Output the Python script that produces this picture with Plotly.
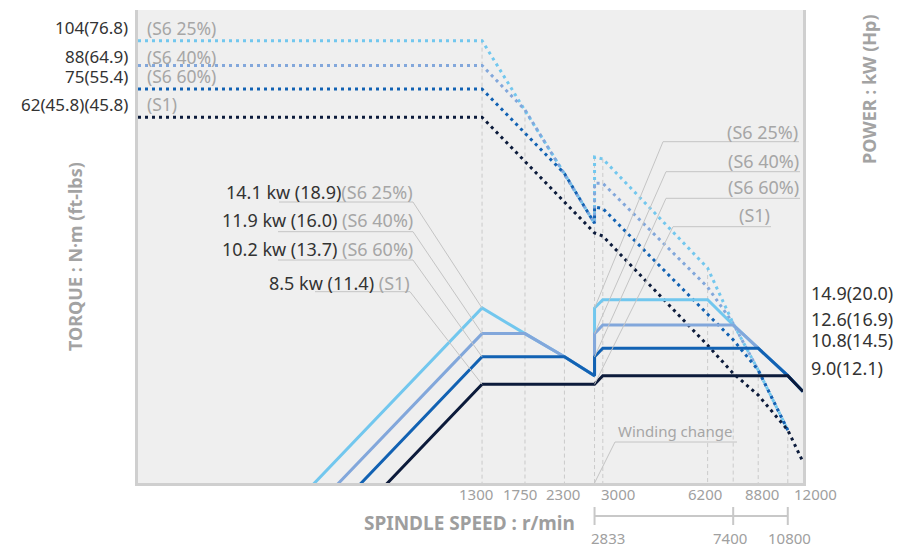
import numpy as np
import plotly.graph_objects as go

# speed axis (r/min), log scale
speed_range = [120, 12000]

# torque curves, N·m (dotted)
tq_s25_n = [120, 1300, 1750, 2300, 2833, 2833, 3000, 6200, 7400, 8800, 10800]
tq_s25_v = [104, 104, 64.9, 42.4, 30.3, 47.4, 46.8, 22.4, 15.4, 11.25, 7.5]
tq_s40_n = [120, 1300, 1750, 2300, 2833, 2833, 3000, 6200, 7400, 8800, 10800]
tq_s40_v = [88, 88, 65.2, 42.4, 30.3, 39.7, 39.7, 19.7, 15.4, 11.25, 7.5]
tq_s60_n = [120, 1300, 2300, 2833, 2833, 3000, 6200, 7400, 8800, 10800]
tq_s60_v = [75, 75, 42.4, 30.3, 33.8, 33.5, 16.4, 13.8, 11.25, 7.5]
tq_s1_n = [120, 1300, 2833, 3000, 6200, 7400, 8800, 10800, 12000]
tq_s1_v = [62, 62, 28.4, 27.8, 13.3, 11.0, 9.5, 7.5, 6.05]

# power curves, kW (solid)
pw_s25_n = [300, 1300, 1750, 2300, 2833, 2833, 3000, 6200, 7400, 8800, 10800, 12000]
pw_s25_v = [3.25, 14.1, 11.9, 10.2, 9.0, 14.1, 14.9, 14.9, 12.6, 10.8, 9.0, 8.1]
pw_s40_n = [300, 1300, 1750, 2300, 2833, 2833, 3000, 7400, 8800, 10800, 12000]
pw_s40_v = [2.75, 11.9, 11.9, 10.2, 9.0, 11.9, 12.6, 12.6, 10.8, 9.0, 8.1]
pw_s60_n = [300, 1300, 2300, 2833, 2833, 3000, 8800, 10800, 12000]
pw_s60_v = [2.35, 10.2, 10.2, 9.0, 10.2, 10.8, 10.8, 9.0, 8.1]
pw_s1_n = [300, 1300, 2833, 3000, 10800, 12000]
pw_s1_v = [1.96, 8.5, 8.5, 9.0, 9.0, 8.1]

# labels
duty = ['(S6 25%)', '(S6 40%)', '(S6 60%)', '(S1)']
torque_lbl = ['104(76.8)', '88(64.9)', '75(55.4)', '62(45.8)(45.8)']
power_lbl = ['14.1 kw (18.9)', '11.9 kw (16.0) ', '10.2 kw (13.7) ', '8.5 kw (11.4) ']
power_hi_lbl = ['14.9(20.0)', '12.6(16.9)', '10.8(14.5)', '9.0(12.1)']
top_ticks = [1300, 1750, 2300, 3000, 6200, 8800, 12000]
bottom_ticks = [2833, 7400, 10800]
drop_n = [1300, 1750, 2300, 2833, 3000, 6200, 7400, 8800, 10800]

colors = ['#72c7ee', '#82a7db', '#1262b3', '#0c1b3b']
grey = '#a6a6a6'
dark = '#333333'
font = 'Noto Sans'

tq_range = [0.720, 2.107]
pw_range = [0.645, 2.008]
# page body adds 8px around the figure
OFF = 8
W, H = 910 - OFF, 549 - OFF
L, R, T, B = 130, 107, 2, 66
pw_ = W - L - R
ph_ = H - T - B


def xs(n):
    lr = np.log10(speed_range)
    return (np.log10(n) - lr[0]) / (lr[1] - lr[0])


def yp(p):
    return (np.log10(p) - pw_range[0]) / (pw_range[1] - pw_range[0])


# screen pixel -> paper
def px(x):
    return (x - OFF - L) / pw_


def py(y):
    return (H - B - (y - OFF)) / ph_


fig = go.Figure()

# drop lines from the top curve
top_at = {}
for n, v in zip(tq_s25_n, tq_s25_v):
    top_at[n] = max(v, top_at.get(n, 0))
gx, gy = [], []
for n in drop_n:
    gx += [n, n, None]
    gy += [top_at[n], 1, None]
fig.add_trace(go.Scatter(x=gx, y=gy, mode='lines',
                         line=dict(color='#cbcbcb', width=1, dash='4px,3px'),
                         hoverinfo='skip'))

pw_sets = [(pw_s25_n, pw_s25_v), (pw_s40_n, pw_s40_v), (pw_s60_n, pw_s60_v), (pw_s1_n, pw_s1_v)]
tq_sets = [(tq_s25_n, tq_s25_v), (tq_s40_n, tq_s40_v), (tq_s60_n, tq_s60_v), (tq_s1_n, tq_s1_v)]

for (n, v), c, name in zip(tq_sets, colors, duty):
    fig.add_trace(go.Scatter(x=n, y=v, mode='lines', name='Torque ' + name,
                             line=dict(color=c, width=3, dash='3px,4px')))
for (n, v), c, name in zip(pw_sets, colors, duty):
    fig.add_trace(go.Scatter(x=n, y=v, mode='lines', name='Power ' + name, yaxis='y2',
                             line=dict(color=c, width=3)))

shapes = []
line_style = dict(color='#c4c4c4', width=1)

# leader lines, left group -> knee at 1300
left_rows = [(202, 279, 413), (231.7, 278, 413), (260, 278, 413), (291.7, 315, 410)]
for (y, x0, x1), p in zip(left_rows, [14.1, 11.9, 10.2, 8.5]):
    shapes.append(dict(type='path', xref='paper', yref='paper', line=line_style,
                       path=f'M {px(x0)},{py(y)} L {px(x1)},{py(y)} L {xs(1300)},{yp(p)}'))

# leader lines, right group -> winding change jump
right_rows = [(141.7, 663, 799), (171.7, 666, 800), (198.3, 666, 800), (226.7, 673, 771)]
for (y, x0, x1), p in zip(right_rows, [14.1, 11.9, 10.2, 8.5]):
    shapes.append(dict(type='path', xref='paper', yref='paper', line=line_style,
                       path=f'M {px(x1)},{py(y)} L {px(x0)},{py(y)} L {xs(2833)},{yp(p)}'))

# winding change
shapes.append(dict(type='path', xref='paper', yref='paper', line=line_style,
                   path=f'M {px(737)},{py(442)} L {px(615)},{py(442)} L {xs(2833)},0'))

# bottom bracket
br = dict(color='#c8c8c8', width=2)
shapes.append(dict(type='line', xref='paper', yref='paper', line=br,
                   x0=xs(bottom_ticks[0]), x1=xs(bottom_ticks[-1]), y0=py(516), y1=py(516)))
for n in bottom_ticks:
    shapes.append(dict(type='line', xref='paper', yref='paper', line=br,
                       x0=xs(n), x1=xs(n), y0=py(507), y1=py(525)))

ann = []


def txt(text, x, y, size, color, xanchor='center', xref='paper', **kw):
    ann.append(dict(text=text, xref=xref, x=x, xanchor=xanchor, yref='paper', y=y,
                    yanchor='middle', showarrow=False, borderpad=0,
                    font=dict(family=font, size=size, color=color), **kw))


# left torque labels
for lbl, d, yc in zip(torque_lbl, duty, [28, 56.5, 76, 104]):
    txt(lbl, px(129), py(yc), 17, dark, 'right')
    txt(d, px(146), py(yc), 17.5, grey, 'left')

# left power labels
for lbl, d, (y, x0, x1), yc in zip(power_lbl, duty, left_rows, [191.5, 220, 249, 283]):
    txt(f"{lbl}<span style='color:{grey}'>{d}</span>", px(x1 + 1), py(yc), 18, dark, 'right')

# right duty labels
for d, (y, x0, x1), yc in zip(duty, right_rows, [131.7, 161, 187, 215]):
    txt(d, px(x1), py(yc), 18, grey, 'right')

# right power values
for lbl, yc in zip(power_hi_lbl, [292.5, 319, 340, 367.5]):
    txt(lbl, px(810), py(yc), 18, dark, 'left')

txt('Winding change', px(617), py(431), 15, grey, 'left')

# speed tick labels
for n, sh in zip(top_ticks, [-6, -5, -1, 15, -3, 4, 12]):
    txt(str(n), np.log10(n), py(494), 15, '#a0a0a0', xref='x', xshift=sh)
for n, sh in zip(bottom_ticks, [13, -3, 2]):
    txt(str(n), np.log10(n), py(538), 15, '#a0a0a0', xref='x', xshift=sh)

# axis titles
txt('<b>SPINDLE SPEED : r/min</b>', px(576), py(523), 19, '#9e9e9e', 'right')
txt('<b>TORQUE : N·m (ft-lbs)</b>', px(75), py(257), 18, '#a3a3a3', textangle=-90)
txt('<b>POWER : kW (Hp)</b>', px(869), py(89), 18, '#a3a3a3', textangle=-90)

fig.update_layout(
    width=W, height=H, autosize=False,
    margin=dict(l=L, r=R, t=T, b=B),
    paper_bgcolor='white', plot_bgcolor='#efefef',
    showlegend=False,
    xaxis=dict(type='log', range=list(np.log10(speed_range)), showgrid=False, zeroline=False,
               showticklabels=False, ticks='', showline=True, linecolor='#cfcfcf', linewidth=3),
    yaxis=dict(type='log', range=tq_range, showgrid=False, zeroline=False, showticklabels=False,
               ticks='', showline=True, linecolor='#cfcfcf', linewidth=3, mirror=True),
    yaxis2=dict(type='log', range=pw_range, overlaying='y', side='right', visible=False),
    shapes=shapes,
    annotations=ann,
)

fig.write_html("out.html")
